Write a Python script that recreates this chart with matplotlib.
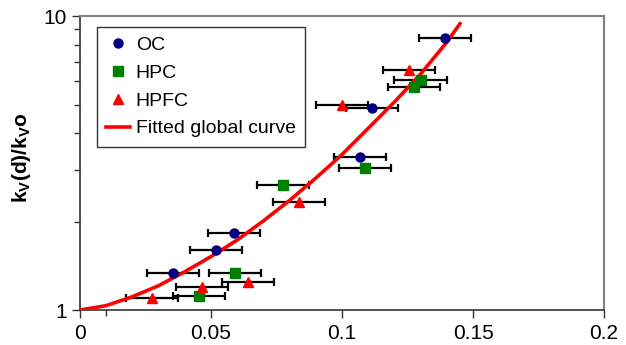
import matplotlib.pyplot as plt
from matplotlib.ticker import FixedLocator, NullFormatter

plt.rcParams['font.family'] = ['Liberation Sans', 'DejaVu Sans']

# Data
oc_x = [0.1393, 0.1115, 0.1069, 0.0588, 0.0519, 0.0355]
oc_y = [8.42, 4.86, 3.32, 1.83, 1.60, 1.34]

hpc_x = [0.1300, 0.1275, 0.1088, 0.0775, 0.0592, 0.0455]
hpc_y = [6.06, 5.73, 3.04, 2.66, 1.34, 1.116]

hpfc_x = [0.1256, 0.1000, 0.0836, 0.0641, 0.0466, 0.0275]
hpfc_y = [6.55, 4.98, 2.33, 1.245, 1.197, 1.098]

x_err = 0.01

# Fitted global curve
fit_x = [0, 0.01, 0.02, 0.03, 0.04, 0.05, 0.06, 0.07, 0.08, 0.09,
         0.10, 0.11, 0.12, 0.13, 0.14, 0.145]
fit_y = [1.0, 1.035, 1.11, 1.21, 1.35, 1.52, 1.73, 2.01, 2.36, 2.81,
         3.38, 4.15, 5.10, 6.35, 8.15, 9.41]

fig = plt.figure(figsize=(6.26, 3.45), dpi=100)
ax = fig.add_axes([0.1278, 0.1014, 0.8371, 0.8522])

eb = dict(fmt='none', ecolor='black', elinewidth=1.6, capsize=3, capthick=1.6, zorder=2)
ax.errorbar(oc_x, oc_y, xerr=x_err, **eb)
ax.errorbar(hpc_x, hpc_y, xerr=x_err, **eb)
ax.errorbar(hpfc_x, hpfc_y, xerr=x_err, **eb)

ax.plot(fit_x, fit_y, color='#ff0000', lw=2.6, zorder=3, label='Fitted global curve')
ax.plot(oc_x, oc_y, 'o', color='#000080', ms=6.5, mec='#000080', zorder=4, label='OC')
ax.plot(hpc_x, hpc_y, 's', color='#008000', ms=7, mec='#008000', zorder=4, label='HPC')
ax.plot(hpfc_x, hpfc_y, '^', color='#ff0000', ms=7, mec='#ff0000', zorder=4, label='HPFC')

ax.set_yscale('log')
ax.set_xlim(0, 0.2)
ax.set_ylim(1, 10)
ax.set_xticks([0, 0.05, 0.1, 0.15, 0.2])
ax.set_xticklabels(['0', '0.05', '0.1', '0.15', '0.2'])
ax.xaxis.set_minor_locator(FixedLocator([0.01]))
ax.set_yticks([1, 10])
ax.set_yticklabels(['1', '10'])
ax.yaxis.set_minor_locator(FixedLocator([2, 3, 4, 5, 6, 7, 8, 9]))
ax.yaxis.set_minor_formatter(NullFormatter())
ax.tick_params(axis='both', which='major', direction='out', length=6, width=1,
               labelsize=15, color='#333333')
ax.tick_params(axis='both', which='minor', direction='out', length=4, width=1,
               color='#333333')
ax.tick_params(axis='x', pad=4)

for side in ['left', 'bottom']:
    ax.spines[side].set_color('#333333')
    ax.spines[side].set_linewidth(1.2)
for side in ['top', 'right']:
    ax.spines[side].set_color('#808080')
    ax.spines[side].set_linewidth(1.5)

ax.set_ylabel('k$_\\mathregular{V}$(d)/k$_\\mathregular{V}$o', fontsize=15,
              fontweight='bold')
ax.yaxis.set_label_coords(-0.09, 0.52)

handles, labels = ax.get_legend_handles_labels()
order = [1, 2, 3, 0]
leg = ax.legend([handles[i] for i in order], [labels[i] for i in order],
                loc='upper left', bbox_to_anchor=(0.032, 0.963), borderaxespad=0,
                fontsize=14, frameon=True, fancybox=False, edgecolor='black',
                handlelength=1.2, handletextpad=0.3, labelspacing=0.52,
                borderpad=0.5)
leg.get_frame().set_linewidth(1.0)

plt.savefig('out.png', dpi=100)
